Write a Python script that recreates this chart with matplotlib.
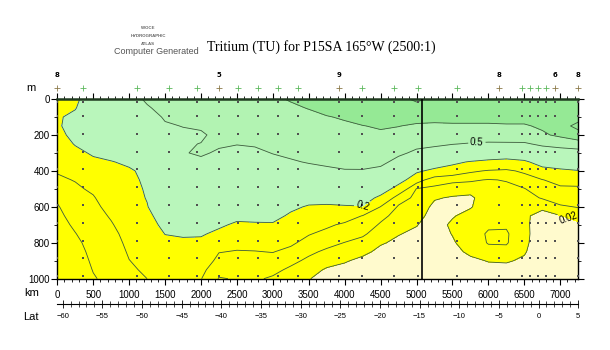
import numpy as np
import matplotlib
matplotlib.use("Agg")
import matplotlib.pyplot as plt
from matplotlib.ticker import MultipleLocator, FixedLocator

plt.rcParams['font.family'] = ['Liberation Sans', 'DejaVu Sans']

# grid of the gridded section: distance along track (km) and depth (m)
dist_km = [0, 250, 500, 750, 1000, 1250, 1500, 1750, 2000, 2250, 2500, 2750, 3000, 3250, 3500,
           3750, 4000, 4250, 4500, 4750, 5000, 5250, 5500, 5750, 6000, 6250, 6500, 6750, 7000, 7250]
depth_m = [0, 50, 100, 150, 200, 250, 300, 350, 400, 450, 500,
           550, 600, 650, 700, 750, 800, 850, 900, 950, 1000]

# tritium (TU), one profile per distance column, top to bottom
tritium_cols = [
    [0.17, 0.18, 0.19, 0.19, 0.18, 0.16, 0.14, 0.125, 0.105, 0.09, 0.075, 0.055, 0.047, 0.042, 0.038, 0.035, 0.033, 0.031, 0.030, 0.029, 0.028],
    [0.18, 0.195, 0.22, 0.23, 0.22, 0.205, 0.18, 0.155, 0.13, 0.103, 0.09, 0.08, 0.07, 0.062, 0.055, 0.049, 0.044, 0.04, 0.037, 0.035, 0.033],
    [0.26, 0.27, 0.27, 0.26, 0.25, 0.235, 0.21, 0.185, 0.16, 0.135, 0.11, 0.095, 0.085, 0.077, 0.07, 0.065, 0.06, 0.057, 0.054, 0.051, 0.048],
    [0.30, 0.31, 0.31, 0.30, 0.28, 0.26, 0.23, 0.196, 0.18, 0.165, 0.15, 0.135, 0.12, 0.106, 0.095, 0.085, 0.077, 0.07, 0.065, 0.06, 0.057],
    [0.42, 0.42, 0.41, 0.39, 0.36, 0.32, 0.27, 0.215, 0.19, 0.18, 0.17, 0.16, 0.15, 0.14, 0.13, 0.12, 0.113, 0.106, 0.099, 0.092, 0.086],
    [0.53, 0.48, 0.42, 0.37, 0.32, 0.28, 0.25, 0.23, 0.22, 0.215, 0.21, 0.205, 0.195, 0.175, 0.16, 0.145, 0.135, 0.125, 0.115, 0.108, 0.10],
    [0.58, 0.56, 0.52, 0.48, 0.46, 0.44, 0.42, 0.40, 0.38, 0.36, 0.34, 0.31, 0.28, 0.25, 0.225, 0.202, 0.18, 0.165, 0.15, 0.14, 0.13],
    [0.62, 0.60, 0.57, 0.505, 0.47, 0.48, 0.49, 0.45, 0.42, 0.40, 0.37, 0.34, 0.31, 0.28, 0.245, 0.21, 0.185, 0.165, 0.15, 0.135, 0.125],
    [0.63, 0.61, 0.58, 0.53, 0.47, 0.505, 0.52, 0.47, 0.44, 0.41, 0.38, 0.35, 0.31, 0.27, 0.24, 0.21, 0.18, 0.155, 0.135, 0.115, 0.102],
    [0.64, 0.63, 0.61, 0.59, 0.56, 0.52, 0.48, 0.44, 0.41, 0.38, 0.35, 0.32, 0.28, 0.25, 0.215, 0.18, 0.13, 0.102, 0.085, 0.065, 0.047],
    [0.65, 0.64, 0.62, 0.60, 0.57, 0.505, 0.46, 0.42, 0.39, 0.36, 0.33, 0.30, 0.26, 0.225, 0.185, 0.14, 0.115, 0.097, 0.08, 0.066, 0.053],
    [0.66, 0.65, 0.63, 0.60, 0.56, 0.515, 0.47, 0.43, 0.40, 0.37, 0.34, 0.30, 0.265, 0.225, 0.19, 0.15, 0.12, 0.098, 0.08, 0.065, 0.055],
    [0.68, 0.67, 0.65, 0.62, 0.58, 0.55, 0.505, 0.46, 0.42, 0.38, 0.35, 0.31, 0.27, 0.23, 0.19, 0.155, 0.125, 0.102, 0.08, 0.06, 0.045],
    [0.71, 0.68, 0.66, 0.63, 0.60, 0.57, 0.53, 0.485, 0.43, 0.37, 0.32, 0.27, 0.22, 0.185, 0.155, 0.13, 0.11, 0.085, 0.06, 0.043, 0.032],
    [0.76, 0.705, 0.67, 0.64, 0.61, 0.58, 0.55, 0.51, 0.45, 0.37, 0.30, 0.24, 0.19, 0.155, 0.125, 0.104, 0.08, 0.058, 0.042, 0.03, 0.021],
    [0.80, 0.76, 0.69, 0.66, 0.63, 0.60, 0.57, 0.53, 0.47, 0.39, 0.31, 0.24, 0.185, 0.15, 0.11, 0.085, 0.062, 0.043, 0.03, 0.017, 0.012],
    [0.83, 0.80, 0.72, 0.67, 0.64, 0.61, 0.58, 0.545, 0.49, 0.40, 0.32, 0.25, 0.19, 0.13, 0.09, 0.068, 0.049, 0.037, 0.022, 0.014, 0.010],
    [0.85, 0.82, 0.77, 0.695, 0.66, 0.62, 0.59, 0.55, 0.49, 0.41, 0.33, 0.26, 0.195, 0.098, 0.075, 0.055, 0.04, 0.025, 0.015, 0.01, 0.008],
    [0.86, 0.84, 0.80, 0.72, 0.67, 0.63, 0.59, 0.54, 0.46, 0.37, 0.27, 0.17, 0.098, 0.062, 0.045, 0.035, 0.022, 0.015, 0.01, 0.008, 0.007],
    [0.87, 0.85, 0.80, 0.705, 0.64, 0.59, 0.53, 0.45, 0.34, 0.25, 0.15, 0.07, 0.045, 0.035, 0.028, 0.021, 0.016, 0.012, 0.009, 0.008, 0.007],
    [0.92, 0.86, 0.78, 0.67, 0.62, 0.54, 0.47, 0.34, 0.22, 0.13, 0.048, 0.04, 0.033, 0.027, 0.021, 0.016, 0.013, 0.01, 0.008, 0.007, 0.006],
    [0.88, 0.85, 0.77, 0.66, 0.60, 0.53, 0.43, 0.28, 0.17, 0.065, 0.043, 0.022, 0.015, 0.012, 0.01, 0.009, 0.008, 0.008, 0.007, 0.007, 0.006],
    [0.87, 0.85, 0.77, 0.67, 0.59, 0.505, 0.40, 0.23, 0.14, 0.06, 0.03, 0.018, 0.015, 0.018, 0.024, 0.021, 0.017, 0.014, 0.012, 0.01, 0.009],
    [0.87, 0.85, 0.77, 0.67, 0.58, 0.49, 0.36, 0.19, 0.11, 0.055, 0.03, 0.015, 0.018, 0.028, 0.035, 0.038, 0.033, 0.024, 0.016, 0.012, 0.01],
    [0.87, 0.85, 0.77, 0.67, 0.58, 0.48, 0.30, 0.17, 0.095, 0.048, 0.04, 0.036, 0.035, 0.038, 0.046, 0.053, 0.052, 0.04, 0.021, 0.014, 0.011],
    [0.87, 0.85, 0.77, 0.68, 0.59, 0.48, 0.28, 0.16, 0.09, 0.052, 0.042, 0.037, 0.036, 0.039, 0.046, 0.054, 0.053, 0.04, 0.022, 0.014, 0.011],
    [0.87, 0.85, 0.77, 0.68, 0.60, 0.48, 0.30, 0.18, 0.11, 0.075, 0.048, 0.036, 0.03, 0.024, 0.025, 0.026, 0.025, 0.022, 0.017, 0.013, 0.01],
    [0.86, 0.84, 0.79, 0.73, 0.67, 0.53, 0.40, 0.25, 0.16, 0.098, 0.075, 0.053, 0.025, 0.012, 0.008, 0.007, 0.006, 0.006, 0.006, 0.005, 0.005],
    [0.85, 0.83, 0.82, 0.86, 0.74, 0.56, 0.42, 0.27, 0.18, 0.12, 0.09, 0.068, 0.045, 0.019, 0.01, 0.007, 0.006, 0.006, 0.005, 0.005, 0.005],
    [0.84, 0.83, 0.86, 0.93, 0.86, 0.58, 0.44, 0.29, 0.195, 0.125, 0.09, 0.07, 0.052, 0.03, 0.015, 0.01, 0.008, 0.007, 0.006, 0.006, 0.005],
]

# stations along the section (km) and the few that carry a number
station_km = [0, 362, 1104, 1558, 1947, 2253, 2513, 2796, 3074, 3352, 3922,
              4242, 4687, 5021, 5569, 6145, 6473, 6575, 6690, 6807, 6922, 7246]
station_labels = {0: '8', 2253: '5', 3922: '9', 6145: '8', 6922: '6', 7246: '8'}
bottle_depth_m = [15, 95, 195, 295, 390, 490, 590, 690, 790, 885, 985]
section_break_km = 5075

levels = [0, 0.02, 0.05, 0.1, 0.2, 0.5, 0.7, 0.9, 1.5]
plain_levels = [0.05, 0.1, 0.7, 0.9]
labelled_levels = [0.02, 0.2, 0.5]
label_spots = [(7120, 655), (4250, 596), (5840, 245)]
fill_colors = ['#fffacd', '#ffff00', '#ffff00', '#ffff00',
               '#b9f6bb', '#b2f3b2', '#95e995', '#95e995']

lat_ticks = [-60, -55, -50, -45, -40, -35, -30, -25, -20, -15, -10, -5, 0, 5]
lat_start_km, lat_end_km = 75.0, 7250.0   # where -60 and 5 fall on the distance axis

X, Y = np.meshgrid(dist_km, depth_m)
Z = np.array(tritium_cols).T

fig = plt.figure(figsize=(6.1, 3.5), dpi=100)
ax = fig.add_axes([0.0939, 0.2037, 0.854, 0.5134])

line_kw = dict(colors='#3d5a3d', linewidths=0.6)
ax.contourf(X, Y, Z, levels=levels, colors=fill_colors)
ax.contour(X, Y, Z, levels=plain_levels, **line_kw)
cs_lab = ax.contour(X, Y, Z, levels=labelled_levels, **line_kw)
ax.clabel(cs_lab, manual=label_spots, fmt={0.02: '0.02', 0.2: '0.2', 0.5: '0.5'},
          fontsize=7, inline=True, inline_spacing=2, colors='black')

# bottle positions
bx, by = np.meshgrid(station_km, bottle_depth_m)
ax.scatter(bx.ravel(), by.ravel(), s=0.8, c='#505050', marker='s', linewidths=0, zorder=3)

ax.axvline(section_break_km, color='black', lw=1.2, zorder=4)

ax.set_xlim(0, 7250)
ax.set_ylim(1000, 0)
ax.xaxis.set_major_locator(MultipleLocator(500))
ax.xaxis.set_minor_locator(MultipleLocator(100))
ax.yaxis.set_major_locator(MultipleLocator(200))
ax.yaxis.set_minor_locator(MultipleLocator(100))
ax.tick_params(axis='both', which='both', direction='out', labelsize=7, pad=1.5,
               top=True, right=True, labeltop=False)
ax.tick_params(which='major', length=4, width=0.8)
ax.tick_params(which='minor', length=2, width=0.6)
ax.tick_params(axis='x', pad=4)
for side in ['left', 'right', 'bottom']:
    ax.spines[side].set_linewidth(1.0)
ax.spines['top'].set_linewidth(1.8)
ax.spines['top'].set_color('#1f3a1f')

# station markers above the section
trans = ax.get_xaxis_transform()
for km in station_km:
    c = '#8c7a4a' if km in station_labels else '#5cb85c'
    ax.plot(km, 1.062, marker='+', ms=4.5, mew=0.6, color=c, transform=trans, clip_on=False)
for km, lab in station_labels.items():
    ax.text(km, 1.135, lab, transform=trans, fontsize=5, fontweight='bold',
            ha='center', va='center', family='DejaVu Sans')

ax.text(-0.05, 1.062, 'm', transform=ax.transAxes, fontsize=8, ha='center', va='center')
ax.text(-0.05, -0.08, 'km', transform=ax.transAxes, fontsize=8, ha='center', va='center')

# latitude scale under the distance axis
span = lat_end_km - lat_start_km
sec = ax.secondary_xaxis(-0.139, functions=(lambda k: -60 + 65 * (k - lat_start_km) / span,
                                            lambda la: lat_start_km + (la + 60) * span / 65))
sec.xaxis.set_major_locator(FixedLocator(lat_ticks))
sec.xaxis.set_minor_locator(MultipleLocator(1))
sec.tick_params(which='major', direction='inout', length=6, width=0.6, labelsize=5.5, pad=4)
sec.tick_params(which='minor', direction='inout', length=4, width=0.5)
sec.spines['bottom'].set_linewidth(0.8)
ax.text(-0.05, -0.215, 'Lat', transform=ax.transAxes, fontsize=8, ha='center', va='center')

fig.text(0.527, 0.865, 'Tritium (TU) for P15SA 165°W (2500:1)', fontsize=10,
         family='Liberation Serif', ha='center', va='center')
fig.text(0.256, 0.853, 'Computer Generated', fontsize=6.5, color='#555555', ha='center', va='center')
for y, s in [(0.92, 'WOCE'), (0.896, 'HYDROGRAPHIC'), (0.874, 'ATLAS')]:
    fig.text(0.243, y, s, fontsize=3.2, color='#666666', fontweight='bold', ha='center', va='center')

fig.savefig('out.png', dpi=100)
